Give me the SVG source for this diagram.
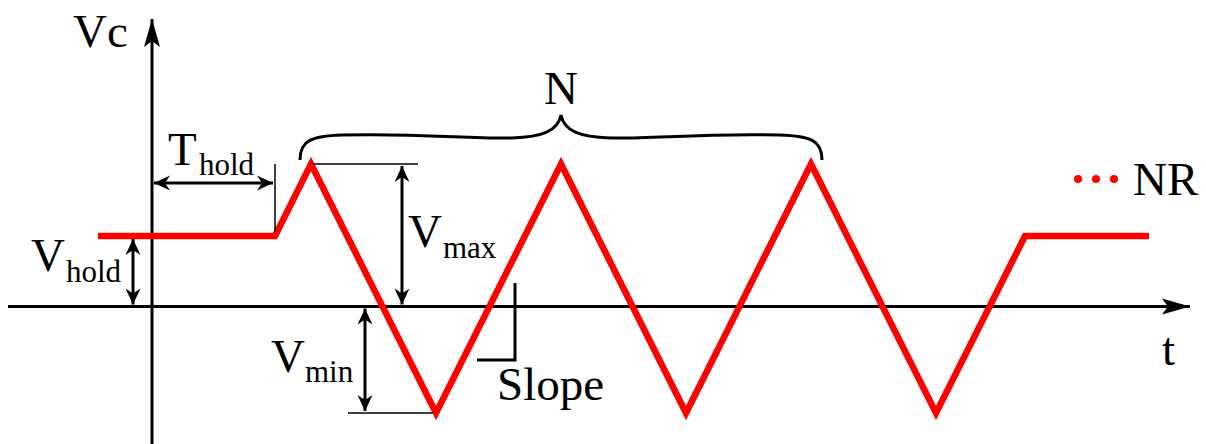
<svg xmlns="http://www.w3.org/2000/svg" width="1206" height="444" viewBox="0 0 1206 444">
<style>
.t{font-family:"Liberation Serif","Times New Roman",serif;fill:#000;font-size:47px}
.s{font-size:31px}
.ax{stroke:#000;stroke-width:3;fill:none}
.dim{stroke:#000;stroke-width:3;fill:none}
.thin{stroke:#000;stroke-width:1.5;fill:none}
.wave{stroke:#ff0000;stroke-width:6.5;fill:none;stroke-linejoin:miter;stroke-miterlimit:10}
</style>
<defs>
<marker id="ah" markerUnits="userSpaceOnUse" markerWidth="32" markerHeight="20" refX="0" refY="0" viewBox="-30 -10 32 20" orient="auto">
<path d="M0,0 L-28,-8 L-22,0 L-28,8 Z" fill="#000"/>
</marker>
<marker id="ahs" markerUnits="userSpaceOnUse" markerWidth="20" markerHeight="20" refX="0" refY="0" viewBox="-18 -10 20 20" orient="auto-start-reverse">
<path d="M0,0 L-16,-7.5 L-11,0 L-16,7.5 Z" fill="#000"/>
</marker>
</defs>
<rect width="1206" height="444" fill="#fff"/>
<g id="axes">
<line class="ax" x1="152" y1="444" x2="152" y2="19" marker-end="url(#ah)"/>
<line class="ax" x1="8" y1="306.5" x2="1190" y2="306.5" marker-end="url(#ah)"/>
<text class="t" x="73" y="47">Vc</text>
<text class="t" x="1162" y="365">t</text>
</g>
<g id="waveform">
<path class="wave" d="M98,236 L275,236 L311,164 L436,413 L561,164 L686,413 L811,164 L936,413 L1025,236 L1149,236"/>
</g>
<g id="connectors">
<line class="thin" x1="275" y1="164" x2="275" y2="232"/>
<line class="thin" x1="313" y1="164" x2="418" y2="164"/>
<line class="thin" x1="348" y1="413" x2="433" y2="413"/>
<line class="dim" x1="154" y1="183" x2="273" y2="183" marker-start="url(#ahs)" marker-end="url(#ahs)"/>
<line class="dim" x1="133" y1="239" x2="133" y2="304.5" marker-start="url(#ahs)" marker-end="url(#ahs)"/>
<line class="dim" x1="402" y1="166" x2="402" y2="304.5" marker-start="url(#ahs)" marker-end="url(#ahs)"/>
<line class="dim" x1="365" y1="308.5" x2="365" y2="411" marker-start="url(#ahs)" marker-end="url(#ahs)"/>
<polyline class="dim" points="515,283 515,360 477,360"/>
<path class="dim" d="M300,160 C300,140 312,136 342,135 C420,133 470,139 512,138 C542,137 558,131 561,115 C564,131 580,137 610,138 C652,139 702,133 780,135 C810,136 822,140 822,160"/>
</g>
<g id="label-thold">
<text class="t" x="168" y="165">T</text>
<text class="t s" x="199" y="175">hold</text>
</g>
<g id="label-vhold">
<text class="t" x="31" y="271">V</text>
<text class="t s" x="66" y="282">hold</text>
</g>
<g id="label-vmax">
<text class="t" x="408" y="247">V</text>
<text class="t s" x="443" y="258">max</text>
</g>
<g id="label-vmin">
<text class="t" x="271" y="372">V</text>
<text class="t s" x="305" y="382">min</text>
</g>
<g id="label-slope">
<text class="t" x="497" y="400">Slope</text>
</g>
<g id="label-n">
<text class="t" x="544" y="104">N</text>
</g>
<g id="label-nr">
<circle cx="1078" cy="179" r="4" fill="#ff0000"/>
<circle cx="1096" cy="179" r="4" fill="#ff0000"/>
<circle cx="1114" cy="179" r="4" fill="#ff0000"/>
<text class="t" x="1133" y="195">NR</text>
</g>
</svg>
